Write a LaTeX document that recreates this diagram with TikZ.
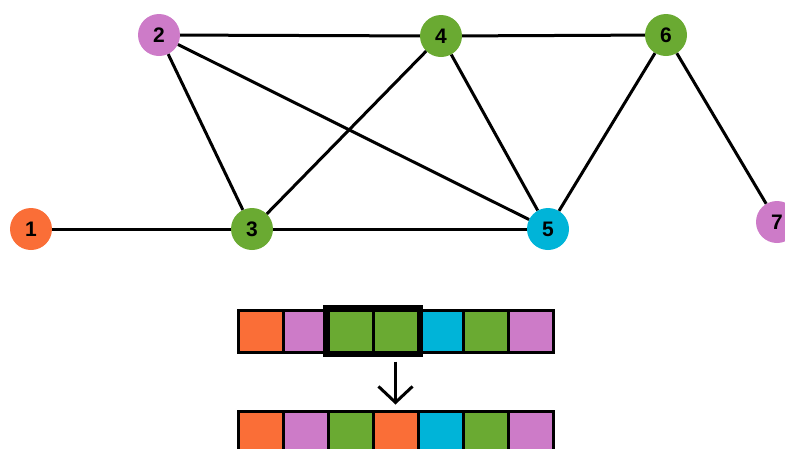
\documentclass[tikz,border=0pt]{standalone}
\usepackage{fontspec}
\setmainfont{Liberation Sans}
\usetikzlibrary{arrows.meta,fit}

\definecolor{vorange}{RGB}{250,110,55}
\definecolor{vpink}{RGB}{205,123,200}
\definecolor{vgreen}{RGB}{106,170,50}
\definecolor{vcyan}{RGB}{0,180,216}

\tikzset{
  vert/.style={circle,fill=#1,minimum size=42pt,inner sep=0pt,font=\fontsize{21}{21}\selectfont\bfseries},
  edge/.style={line width=3pt},
  cell/.style={draw,fill=#1,line width=3pt,minimum width=45pt,minimum height=42pt,inner sep=0pt}
}

\begin{document}
\begin{tikzpicture}[x=1pt,y=-1pt]
        \useasboundingbox (0,0) rectangle (785,448);
        % graph
        \node [vert=vorange] (v1) at (31,229) {1};
        \node [vert=vpink] (v2) at (159,35) {2};
        \node [vert=vgreen] (v3) at (252,229) {3};
        \node [vert=vgreen] (v4) at (441,36) {4};
        \node [vert=vcyan] (v5) at (548,229) {5};
        \node [vert=vgreen] (v6) at (666,35) {6};
        \node [vert=vpink] (v7) at (777,222) {7};
        \draw[edge] (v1) -- (v3);
        \draw[edge] (v2) -- (v4);
        \draw[edge] (v4) -- (v6);
        \draw[edge] (v2) -- (v3);
        \draw[edge] (v2) -- (v5);
        \draw[edge] (v3) -- (v4);
        \draw[edge] (v4) -- (v5);
        \draw[edge] (v3) -- (v5);
        \draw[edge] (v5) -- (v6);
        \draw[edge] (v6) -- (v7);
        % colour strings
        \foreach \c [count=\i] in {vorange,vpink,vgreen,vgreen,vcyan,vgreen,vpink}
          \node [cell=\c] (a\i) at (215.5+45*\i,331) {};
        \foreach \c [count=\i] in {vorange,vpink,vgreen,vorange,vcyan,vgreen,vpink}
          \node [cell=\c] (b\i) at (215.5+45*\i,432) {};
        \node [draw,line width=5.5pt,fit=(a3)(a4),inner sep=0.5pt] (sel) {};
        \draw[line width=3pt,-{Straight Barb[length=16pt,width=34pt]},shorten <=8pt,shorten >=5pt] (a4.south) -- (b4.north);
\end{tikzpicture}
\end{document}
